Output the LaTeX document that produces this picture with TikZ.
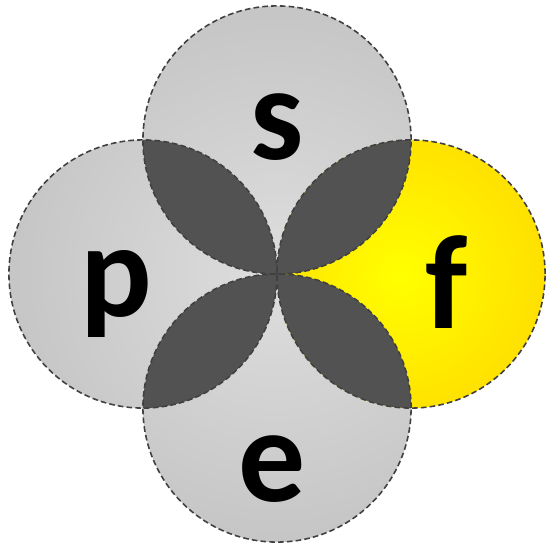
\documentclass[tikz,border=0pt]{standalone}
\usepackage{fontspec}
\setsansfont{Carlito}
\begin{document}
\begin{tikzpicture}[x=0.01cm,y=-0.01cm]
        \tikzset{ring/.style={draw=black!75, dash pattern=on 1.6pt off 0.9pt, line width=0.45pt}}
        \tikzset{lens/.style={fill=black!68}}
        \tikzset{letter/.style={font=\sffamily\bfseries\fontsize{38}{40}\selectfont, anchor=base, inner sep=0pt}}
        \def\rad{1.34cm}
        \useasboundingbox (0,0) rectangle (545,549);
        \coordinate (C) at (277,274);
        \coordinate (cS) at (277,140);
        \coordinate (cP) at (143,274);
        \coordinate (cE) at (277,408);
        \coordinate (cF) at (411,274);
        % grey circles
        \path[path picture={\shade[inner color=black!13, outer color=black!28] (C) circle (4.2cm);}]
            (cS) circle (\rad) (cP) circle (\rad) (cE) circle (\rad);
        % yellow circle
        \path[path picture={\shade[inner color=yellow, outer color={rgb,255:red,255;green,200;blue,0}] (400,274) circle (2.6cm);}]
            (cF) circle (\rad);
        % overlaps
        \begin{scope}
            \clip (cS) circle (\rad);
            \fill[lens] (cP) circle (\rad);
            \fill[lens] (cF) circle (\rad);
        \end{scope}
        \begin{scope}
            \clip (cE) circle (\rad);
            \fill[lens] (cP) circle (\rad);
            \fill[lens] (cF) circle (\rad);
        \end{scope}
        \draw[ring] (cS) circle (\rad);
        \draw[ring] (cP) circle (\rad);
        \draw[ring] (cE) circle (\rad);
        \draw[ring] (cF) circle (\rad);
        \node[letter] (s) at (277,160) {s};
        \node[letter] (p) at (116,317) {p};
        \node[letter] (e) at (272,501) {e};
        \node[letter] (f) at (447,328) {f};
    \end{tikzpicture}
\end{document}
